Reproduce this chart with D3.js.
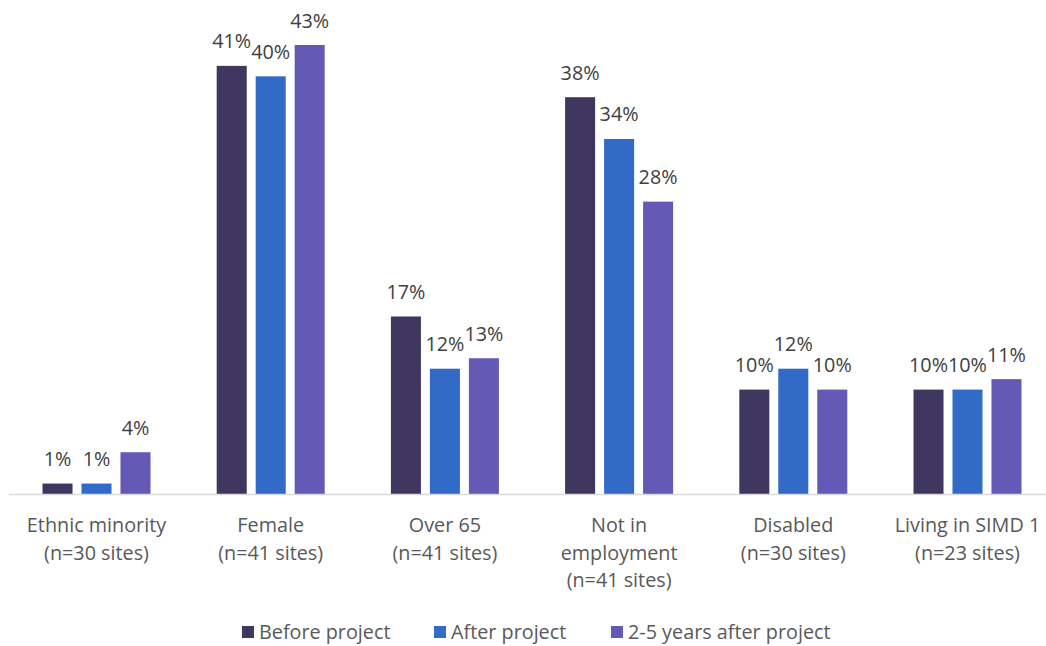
<!DOCTYPE html>
<html><head><meta charset="utf-8">
<script src="https://cdn.jsdelivr.net/npm/d3@7"></script>
<style>body{margin:0;background:#fff}svg{display:block}</style>
</head><body><svg id="c" width="1046" height="646"></svg>
<script>
const categories = [["Ethnic minority","(n=30 sites)"],["Female","(n=41 sites)"],["Over 65","(n=41 sites)"],["Not in","employment","(n=41 sites)"],["Disabled","(n=30 sites)"],["Living in SIMD 1","(n=23 sites)"]];
const seriesNames = ["Before project","After project","2-5 years after project"];
const before = [1,41,17,38,10,10];
const after = [1,40,12,34,12,10];
const later = [4,43,13,28,10,11];
const colors = ["#3F3760","#316BC7","#6459B5"];

const svg = d3.select("#c");
const font = "'Open Sans', Lato, sans-serif";
const fs = 19.8;
const baseY = 494;
const x0 = d3.scaleBand().domain(d3.range(categories.length)).range([9.4, 1054.6]);
const bw0 = x0.bandwidth();
const x1 = d3.scaleBand().domain([0,1,2]).range([(bw0-108)/2, (bw0+108)/2]).paddingInner(0.23).paddingOuter(0);
const y = d3.scaleLinear().domain([0, 43]).range([baseY, 45]);

const series = [before, after, later];
series.forEach((vals, s) => {
  const g = svg.append("g");
  g.selectAll("rect").data(vals).join("rect")
    .attr("x", (d,i) => x0(i) + x1(s))
    .attr("y", d => y(d))
    .attr("width", x1.bandwidth())
    .attr("height", d => baseY - y(d))
    .attr("fill", colors[s]);
  g.selectAll("text").data(vals).join("text")
    .attr("x", (d,i) => x0(i) + x1(s) + x1.bandwidth()/2)
    .attr("y", d => y(d) - 17.5)
    .attr("text-anchor","middle")
    .attr("font-family", font).attr("font-size", fs).attr("fill","#404040")
    .text(d => d + "%");
});

svg.append("line").attr("x1", 9).attr("x2", 1046).attr("y1", baseY+0.5).attr("y2", baseY+0.5)
  .attr("stroke","#d9d9d9").attr("stroke-width",1.5);

const cat = svg.append("g");
categories.forEach((lines, i) => {
  const t = cat.append("text").attr("text-anchor","middle")
    .attr("font-family", font).attr("font-size", fs).attr("fill","#595959");
  lines.forEach((ln, k) => {
    t.append("tspan").attr("x", x0(i) + bw0/2).attr("y", 532 + k*27.5).text(ln);
  });
});

const legX = [242, 434, 611];
const leg = svg.append("g");
seriesNames.forEach((n, i) => {
  leg.append("rect").attr("x", legX[i]).attr("y", 626).attr("width", 12).attr("height", 12).attr("fill", colors[i]);
  leg.append("text").attr("x", legX[i] + 17).attr("y", 639)
    .attr("font-family", font).attr("font-size", fs).attr("fill","#595959").text(n);
});
</script></body></html>
